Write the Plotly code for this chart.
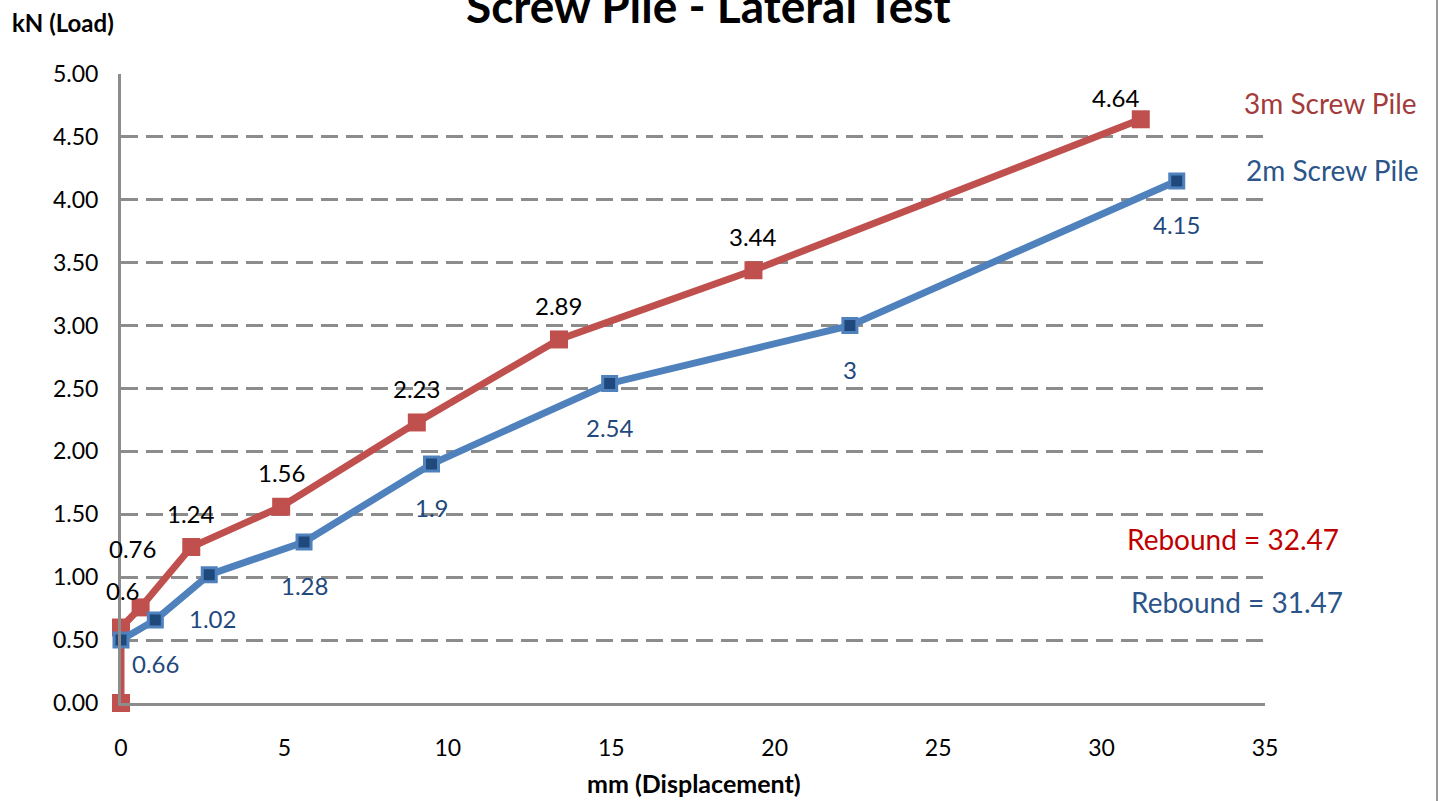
import plotly.graph_objects as go

# ---- data ----
x_3m = [0, 0, 0.6, 2.15, 4.9, 9.05, 13.4, 19.35, 31.2]
y_3m = [0, 0.60, 0.76, 1.24, 1.56, 2.23, 2.89, 3.44, 4.64]
lbl_3m = ["", "0.6", "0.76", "1.24", "1.56", "2.23", "2.89", "3.44", "4.64"]

x_2m = [0, 1.05, 2.7, 5.6, 9.5, 14.95, 22.3, 32.3]
y_2m = [0.50, 0.66, 1.02, 1.28, 1.90, 2.54, 3.00, 4.15]
lbl_2m = ["", "0.66", "1.02", "1.28", "1.9", "2.54", "3", "4.15"]

x_ticks = [0, 5, 10, 15, 20, 25, 30, 35]
y_ticks = [0, 0.5, 1, 1.5, 2, 2.5, 3, 3.5, 4, 4.5, 5]

FONT = "Lato"
RED = "#C0504D"
BLUE = "#4F81BD"
DBLUE = "#1F497D"
GRAY = "#8C8C8C"

# plot area in pixels
L, R, T, B = 121, 1265, 74, 703
W, H = 1442, 801


def px(p):
    return (p - L) / (R - L)


def py(p):
    return (B - p) / (B - T)


fig = go.Figure()
fig.add_trace(go.Scatter(
    x=x_3m, y=y_3m, mode="lines+markers", name="3m Screw Pile",
    line=dict(color=RED, width=7),
    marker=dict(symbol="square", size=18, color=RED, line=dict(width=0)),
    cliponaxis=False, showlegend=False))
fig.add_trace(go.Scatter(
    x=x_2m, y=y_2m, mode="lines+markers", name="2m Screw Pile",
    line=dict(color=BLUE, width=7),
    marker=dict(symbol="square", size=14, color=DBLUE, line=dict(width=3, color=BLUE)),
    cliponaxis=False, showlegend=False))

annotations = []
# red labels (above)
red_shift = {1: (2, 37), 2: (-8, 59), 8: (-25, 22)}
for i, (xv, yv, t) in enumerate(zip(x_3m, y_3m, lbl_3m)):
    if not t:
        continue
    dx, dy = red_shift.get(i, (0, 34))
    annotations.append(dict(x=xv, y=yv, text=t, showarrow=False, xshift=dx, yshift=dy,
                            font=dict(family=FONT, size=24, color="black")))
# blue labels (below)
blue_shift = {2: (3, -44)}
for i, (xv, yv, t) in enumerate(zip(x_2m, y_2m, lbl_2m)):
    if not t:
        continue
    dx, dy = blue_shift.get(i, (0, -44))
    annotations.append(dict(x=xv, y=yv, text=t, showarrow=False, xshift=dx, yshift=dy,
                            font=dict(family=FONT, size=24, color=DBLUE)))

def paper_text(text, xp, yp, size, color, bold=False):
    annotations.append(dict(xref="paper", yref="paper", x=px(xp), y=py(yp),
                            text=f"<b>{text}</b>" if bold else text, showarrow=False,
                            xanchor="center", yanchor="middle",
                            font=dict(family=FONT, size=size, color=color)))

paper_text("Screw Pile - Lateral Test", 708, 5, 46, "black", bold=True)
paper_text("kN (Load)", 63, 22, 24, "black", bold=True)
paper_text("mm (Displacement)", 694, 783, 25, "black", bold=True)
paper_text("3m Screw Pile", 1330, 103, 28, "#A33B3B")
paper_text("2m Screw Pile", 1332, 170, 28, "#2B5589")
paper_text("Rebound = 32.47", 1233, 539, 28, "#C00000")
paper_text("Rebound = 31.47", 1237, 602, 28, "#2B5589")

fig.update_layout(
    width=W, height=H,
    margin=dict(l=L, r=W - R, t=T, b=H - B, pad=0),
    paper_bgcolor="white", plot_bgcolor="white",
    annotations=annotations,
    shapes=[dict(type="line", xref="paper", yref="paper",
                 x0=px(1437), x1=px(1437), y0=py(0), y1=py(801),
                 line=dict(color="#999999", width=2))],
    font=dict(family=FONT, size=23, color="black"),
)
fig.update_xaxes(range=[0, 35], tickvals=x_ticks, ticktext=[str(v) for v in x_ticks],
                 showgrid=False, zeroline=False,
                 showline=True, linecolor=GRAY, linewidth=3,
                 ticks="", ticklabelstandoff=22,
                 tickfont=dict(family=FONT, size=23, color="black"))
fig.update_yaxes(range=[0, 5], tickvals=y_ticks, ticktext=[f"{v:.2f}" for v in y_ticks],
                 showgrid=True, gridcolor=GRAY, gridwidth=3, griddash="17px,8px",
                 zeroline=False,
                 showline=True, linecolor=GRAY, linewidth=3,
                 ticks="", ticklabelstandoff=15,
                 tickfont=dict(family=FONT, size=23, color="black"))

fig.write_html("out.html")
